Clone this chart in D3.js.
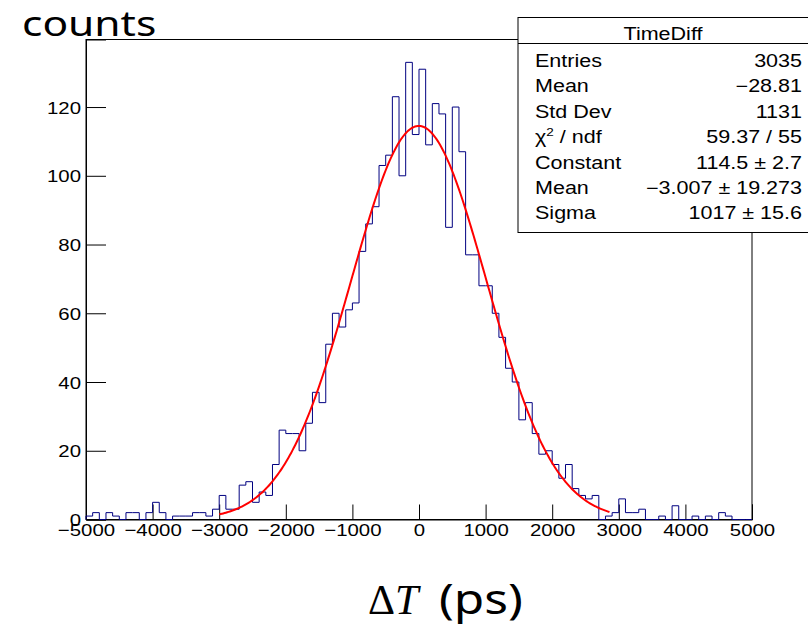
<!DOCTYPE html>
<html>
<head>
<meta charset="utf-8">
<script src="https://d3js.org/d3.v7.min.js"></script>
<style>
body { margin: 0; background: #fff; }
svg { display: block; }
text { font-family: "Liberation Sans", Arial, sans-serif; fill: #000; }
</style>
<title>TimeDiff</title>
</head>
<body>
<script>
// histogram: 100 bins of 100 ps from -5000 to 5000
var binStart = -5000;
var binWidth = 100;
var binCounts = [
  1, 2, 0, 2, 1, 0, 2, 2, 0, 2,
  5, 2, 0, 1, 1, 1, 2, 2, 1, 3,
  7, 3, 3, 10, 11, 5, 8, 7, 16, 26,
  25, 25, 20, 28, 37, 34, 51, 60, 56, 61,
  63, 78, 86, 91, 103, 106, 123, 100, 133, 112,
  131, 109, 121, 118, 85, 120, 107, 77, 77, 68,
  68, 60, 53, 44, 40, 29, 34, 25, 19, 20,
  16, 12, 16, 9, 7, 6, 7, 0, 1, 2,
  6, 2, 2, 3, 0, 0, 1, 0, 4, 0,
  0, 1, 0, 1, 0, 2, 1, 0, 0, 0
];

// gaussian fit parameters (constant, mean, sigma) and fit range
var fitParams = [114.5, -3.007, 1017];
var fitRange = [-3000, 2870];

var xMajorTicks = d3.range(-5000, 5001, 1000);
var xMinorTicks = d3.range(-5000, 5001, 200);
var yMajorTicks = d3.range(0, 121, 20);
var yMinorTicks = d3.range(0, 136, 5);

var statTitle = "TimeDiff";
var statLabels = ["Entries", "Mean", "Std Dev", "chi2", "Constant", "Mean", "Sigma"];
var statValues = ["3035", "\u221228.81", "1131", "59.37 / 55", "114.5 \u00b1 2.7",
                  "\u22123.007 \u00b1 19.273", "1017 \u00b1 15.6"];

var W = 808, H = 627;
var sx = 1.2; // the picture is stretched sideways

var svg = d3.select("body").append("svg")
    .attr("width", W)
    .attr("height", H);

var x = d3.scaleLinear().domain([-5000, 5000]).range([86, 752]);
var y = d3.scaleLinear().domain([0, 139.65]).range([519.5, 39.5]);

// frame
svg.append("rect")
    .attr("x", x(-5000)).attr("y", y(139.65))
    .attr("width", x(5000) - x(-5000)).attr("height", y(0) - y(139.65))
    .attr("fill", "none").attr("stroke", "#000").attr("stroke-width", 1);

// x axis
var gx = svg.append("g").attr("transform", "translate(0," + y(0) + ")");
gx.call(d3.axisBottom(x).tickValues(xMinorTicks).tickSize(-7.5).tickFormat(""));
gx.call(d3.axisBottom(x).tickValues(xMajorTicks).tickSize(-15).tickPadding(0)
    .tickFormat(d3.format("d")));
gx.selectAll(".domain").attr("stroke", "#000");
gx.selectAll("text")
    .attr("y", 4).attr("dy", "0.71em")
    .style("font-size", "17px")
    .attr("transform", "scale(" + sx + ",1)");

// y axis
var gy = svg.append("g").attr("transform", "translate(" + x(-5000) + ",0)");
gy.call(d3.axisLeft(y).tickValues(yMinorTicks).tickSize(-10).tickFormat(""));
gy.call(d3.axisLeft(y).tickValues(yMajorTicks).tickSize(-20).tickPadding(0));
gy.selectAll("text")
    .attr("x", -5 / sx).attr("dy", "0.36em")
    .style("font-size", "17px")
    .attr("transform", "scale(" + sx + ",1)");

// histogram outline
var bins = binCounts.map(function(c, i) {
  return { x0: binStart + i * binWidth, x1: binStart + (i + 1) * binWidth, n: c };
});
var p = "M" + x(bins[0].x0) + "," + y(0);
bins.forEach(function(b) {
  p += "V" + y(b.n) + "H" + x(b.x1);
});
p += "V" + y(0);
svg.append("path")
    .attr("d", p)
    .attr("fill", "none")
    .attr("stroke", "#000080")
    .attr("stroke-width", 1);

// fit curve
function gaus(t) {
  var z = (t - fitParams[1]) / fitParams[2];
  return fitParams[0] * Math.exp(-0.5 * z * z);
}
var fitPts = d3.range(fitRange[0], fitRange[1] + 1, 20);
svg.append("path")
    .datum(fitPts)
    .attr("d", d3.line().x(function(d) { return x(d); }).y(function(d) { return y(gaus(d)); }))
    .attr("fill", "none")
    .attr("stroke", "#ff0000")
    .attr("stroke-width", 2);

// stats box
var bx = 518, by = 17.5, bw = 310, bh = 215;
svg.append("rect")
    .attr("x", bx).attr("y", by).attr("width", bw).attr("height", bh)
    .attr("fill", "#fff").attr("stroke", "#000").attr("stroke-width", 1);
svg.append("line")
    .attr("x1", bx).attr("x2", bx + bw).attr("y1", 43.5).attr("y2", 43.5)
    .attr("stroke", "#000");
svg.append("text")
    .attr("transform", "translate(663,39.5) scale(1.23,1)")
    .attr("text-anchor", "middle")
    .style("font-size", "17.5px")
    .text(statTitle);

statLabels.forEach(function(lab, i) {
  var yy = 67 + i * 25.4;
  var t = svg.append("text")
      .attr("transform", "translate(535," + yy + ") scale(1.23,1)")
      .style("font-size", "17.5px");
  if (lab === "chi2") {
    t.append("tspan").text("\u03c7");
    t.append("tspan").attr("dy", -7).style("font-size", "11px").text("2");
    t.append("tspan").attr("dy", 7).text(" / ndf");
  } else {
    t.text(lab);
  }
  svg.append("text")
      .attr("transform", "translate(802," + yy + ") scale(1.23,1)")
      .attr("text-anchor", "end")
      .style("font-size", "17.5px")
      .text(statValues[i]);
});

// axis titles
svg.append("text")
    .attr("transform", "translate(22,36) scale(1.25,1)")
    .style("font-family", "'Noto Sans', sans-serif")
    .style("font-size", "34px")
    .text("counts");

var xt = svg.append("text")
    .attr("transform", "translate(368,614)")
    .style("font-size", "42px")
    .style("font-family", "'Liberation Serif', serif");
xt.append("tspan").text("\u0394");
xt.append("tspan").style("font-style", "italic").text("T");
svg.append("text")
    .attr("transform", "translate(439,614) scale(1.18,1)")
    .style("font-family", "'Noto Sans', sans-serif")
    .style("font-size", "42px")
    .text("(ps)");
</script>
</body>
</html>
